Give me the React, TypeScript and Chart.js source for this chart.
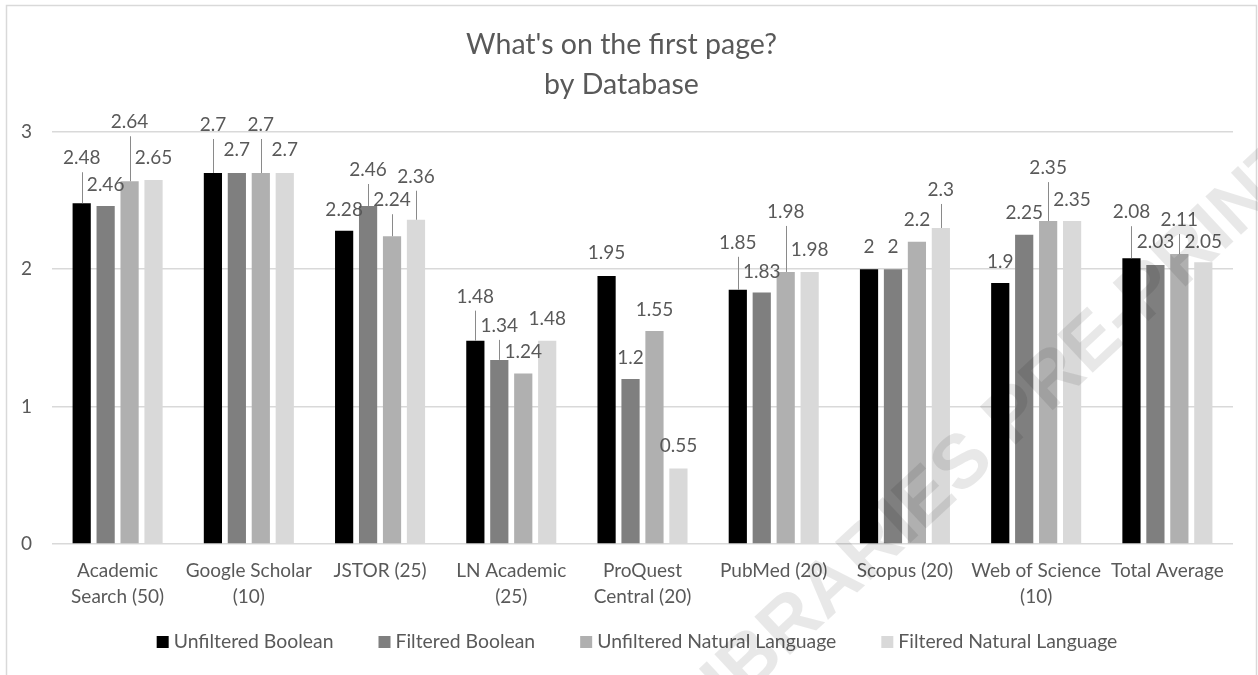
import React, { useEffect, useRef } from "react";
import { Chart, registerables } from "chart.js";

Chart.register(...registerables);

const TITLE_LINES = ["What's on the first page?", "by Database"];

const CATEGORIES: (string | string[])[] = [
  ["Academic", "Search (50)"],
  ["Google Scholar", "(10)"],
  "JSTOR (25)",
  ["LN Academic", "(25)"],
  ["ProQuest", "Central (20)"],
  "PubMed (20)",
  "Scopus (20)",
  ["Web of Science", "(10)"],
  "Total Average",
];

const SERIES_NAMES = [
  "Unfiltered Boolean",
  "Filtered Boolean",
  "Unfiltered Natural Language",
  "Filtered Natural Language",
];

const UNFILTERED_BOOLEAN = [2.48, 2.7, 2.28, 1.48, 1.95, 1.85, 2, 1.9, 2.08];
const FILTERED_BOOLEAN = [2.46, 2.7, 2.46, 1.34, 1.2, 1.83, 2, 2.25, 2.03];
const UNFILTERED_NATURAL = [2.64, 2.7, 2.24, 1.24, 1.55, 1.98, 2.2, 2.35, 2.11];
const FILTERED_NATURAL = [2.65, 2.7, 2.36, 1.48, 0.55, 1.98, 2.3, 2.35, 2.05];

const Y_TICKS = [0, 1, 2, 3];

const SERIES_COLORS = ["#000000", "#7f7f7f", "#b0b0b0", "#d9d9d9"];

// label placement (pixels the label sits above its bar, as in the original layout)
const LABEL_LIFT = [
  [45, 48, 21, 44, 23, 47, 22, 21, 46],
  [21, 23, 36, 34, 21, 21, 22, 22, 23],
  [59, 48, 36, 22, 21, 60, 22, 53, 34],
  [22, 23, 43, 22, 23, 22, 38, 21, 20],
];

const WATERMARK = "LIBRARIES PRE-PRINT";

const FONT = "Lato, 'Open Sans', sans-serif";
const TEXT_COLOR = "#595959";
const GRID_COLOR = "#d9d9d9";

const frame = {
  id: "frame",
  beforeDraw(chart: any) {
    const ctx = chart.ctx;
    ctx.save();
    ctx.fillStyle = "#ffffff";
    ctx.fillRect(0, 0, chart.width, chart.height);
    ctx.strokeStyle = GRID_COLOR;
    ctx.lineWidth = 1.5;
    ctx.strokeRect(6.5, 5.5, chart.width - 8, chart.height + 20);
    ctx.restore();
  },
};

const valueLabels = {
  id: "valueLabels",
  afterDatasetsDraw(chart: any) {
    const ctx = chart.ctx;
    ctx.save();
    ctx.font = `19px ${FONT}`;
    ctx.textAlign = "center";
    ctx.textBaseline = "middle";
    chart.data.datasets.forEach((ds: any, i: number) => {
      const meta = chart.getDatasetMeta(i);
      meta.data.forEach((el: any, j: number) => {
        const lift = LABEL_LIFT[i][j];
        const x = el.x;
        const top = el.y;
        const ty = top - lift;
        if (lift > 30) {
          ctx.strokeStyle = "#8a8a8a";
          ctx.lineWidth = 1;
          ctx.beginPath();
          const lx = Math.round(x) + 0.5;
          ctx.moveTo(lx, top);
          ctx.lineTo(lx, ty + 14);
          ctx.stroke();
        }
        ctx.fillStyle = TEXT_COLOR;
        ctx.fillText(String(ds.data[j]), x, ty);
      });
    });
    ctx.restore();
  },
};

const customLegend = {
  id: "customLegend",
  afterDraw(chart: any) {
    const ctx = chart.ctx;
    ctx.save();
    ctx.font = `19.4px ${FONT}`;
    ctx.textBaseline = "middle";
    ctx.textAlign = "left";
    const box = 12;
    const gap = 5;
    const itemGap = 45;
    const items = chart.data.datasets.map((ds: any) => ({
      label: ds.label,
      color: ds.backgroundColor,
      w: ctx.measureText(ds.label).width,
    }));
    const total =
      items.reduce((s: number, it: any) => s + box + gap + it.w, 0) +
      itemGap * (items.length - 1);
    let x = chart.width / 2 + 8 - total / 2;
    const y = chart.chartArea.bottom + 98;
    items.forEach((it: any) => {
      ctx.fillStyle = it.color;
      ctx.fillRect(x, y - box / 2, box, box);
      x += box + gap;
      ctx.fillStyle = TEXT_COLOR;
      ctx.fillText(it.label, x, y);
      x += it.w + itemGap;
    });
    ctx.restore();
  },
};

const watermark = {
  id: "watermark",
  afterDraw(chart: any) {
    const ctx = chart.ctx;
    ctx.save();
    ctx.font = `bold 76px 'Liberation Sans', sans-serif`;
    ctx.fillStyle = "rgba(0,0,0,0.09)";
    ctx.textBaseline = "middle";
    ctx.textAlign = "left";
    const pre = ctx.measureText("LI").width + ctx.measureText("B").width / 2;
    ctx.translate(752, 662);
    ctx.rotate((-43 * Math.PI) / 180);
    ctx.fillText(WATERMARK, -pre, 0);
    ctx.restore();
  },
};

export default function App() {
  const ref = useRef<HTMLCanvasElement | null>(null);

  useEffect(() => {
    if (!ref.current) return;
    const seriesValues = [
      UNFILTERED_BOOLEAN,
      FILTERED_BOOLEAN,
      UNFILTERED_NATURAL,
      FILTERED_NATURAL,
    ];
    const chart = new Chart(ref.current, {
      type: "bar",
      data: {
        labels: CATEGORIES,
        datasets: seriesValues.map((vals, i) => ({
          label: SERIES_NAMES[i],
          data: vals,
          backgroundColor: SERIES_COLORS[i],
          borderWidth: 0,
          categoryPercentage: 0.73,
          barPercentage: 0.76,
        })),
      },
      options: {
        animation: false,
        responsive: false,
        maintainAspectRatio: false,
        devicePixelRatio: 1,
        layout: { padding: { left: 10, right: 25, top: 0, bottom: 51 } },
        plugins: {
          legend: { display: false },
          tooltip: { enabled: false },
          title: {
            display: true,
            text: TITLE_LINES,
            color: TEXT_COLOR,
            font: { family: FONT, size: 28.5, weight: "normal", lineHeight: 1.4 },
            padding: { top: 25, bottom: 27 },
          },
        },
        scales: {
          x: {
            grid: { display: false, drawTicks: false },
            border: { display: false },
            ticks: {
              color: TEXT_COLOR,
              font: { family: FONT, size: 19, lineHeight: 1.37 },
              padding: 14,
              maxRotation: 0,
              autoSkip: false,
            },
            afterFit: (s: any) => {
              s.height = 80;
            },
          },
          y: {
            min: Y_TICKS[0],
            max: Y_TICKS[Y_TICKS.length - 1],
            afterBuildTicks: (s: any) => {
              s.ticks = Y_TICKS.map((v) => ({ value: v }));
            },
            grid: { color: GRID_COLOR, drawTicks: false, lineWidth: 1.5 },
            border: { display: false },
            ticks: {
              color: TEXT_COLOR,
              font: { family: FONT, size: 19 },
              padding: 20,
            },
            afterFit: (s: any) => {
              s.width = 42;
            },
          },
        },
      },
      plugins: [frame, valueLabels, customLegend, watermark],
    });
    return () => chart.destroy();
  }, []);

  return (
    <div
      style={{
        position: "fixed",
        left: 0,
        top: 0,
        width: 1258,
        height: 675,
        background: "#ffffff",
      }}
    >
      <canvas ref={ref} width={1258} height={675} style={{ display: "block" }} />
    </div>
  );
}
